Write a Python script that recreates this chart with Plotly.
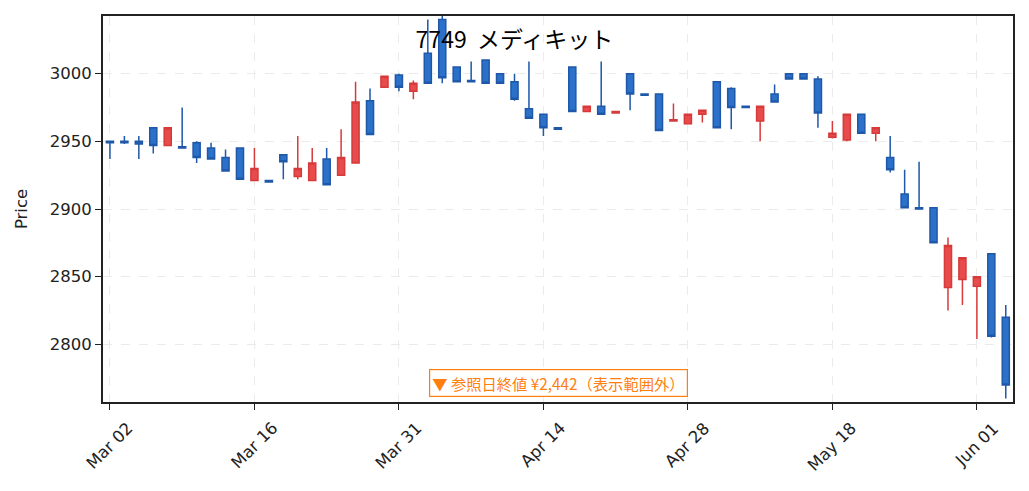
import pandas as pd
import plotly.graph_objects as go

# trading days (TSE), Mar 2 - Jun 3 2026
holidays = ['2026-03-20', '2026-04-29', '2026-05-04', '2026-05-05', '2026-05-06']
dates = pd.bdate_range('2026-03-02', '2026-06-03', freq='C', holidays=holidays)
labels = [d.strftime('%Y-%m-%d') for d in dates]

opens = [2950, 2950, 2950, 2960, 2947, 2946, 2949, 2945, 2938, 2945,
         2921, 2921, 2940, 2924, 2921, 2937, 2925, 2934, 2980, 2990,
         2999, 2987, 3015, 3040, 3005, 2995, 3010, 3000, 2994, 2974,
         2970, 2960, 3005, 2972, 2976, 2971, 3000, 2985, 2985, 2965,
         2963, 2970, 2994, 2989, 2976, 2965, 2985, 3000, 3000, 2996,
         2953, 2951, 2970, 2956, 2938, 2911, 2901, 2901, 2842, 2848,
         2843, 2867, 2820]
highs = [2950, 2954, 2954, 2960, 2960, 2975, 2950, 2949, 2944, 2945,
         2945, 2921, 2940, 2954, 2945, 2945, 2959, 2994, 2989, 2998,
         3000, 2995, 3040, 3048, 3005, 3009, 3010, 3000, 3000, 3009,
         2970, 2960, 3005, 2976, 3009, 2972, 3000, 2985, 2985, 2978,
         2970, 2973, 2994, 2990, 2976, 2976, 2992, 3000, 3000, 2998,
         2965, 2970, 2970, 2960, 2954, 2929, 2935, 2901, 2879, 2864,
         2850, 2867, 2829]
lows = [2937, 2948, 2937, 2941, 2947, 2945, 2934, 2937, 2928, 2922,
        2921, 2920, 2922, 2922, 2921, 2918, 2925, 2934, 2955, 2990,
        2987, 2981, 2993, 2993, 2994, 2994, 2993, 2993, 2980, 2967,
        2954, 2959, 2972, 2972, 2970, 2971, 2973, 2984, 2958, 2965,
        2963, 2964, 2960, 2959, 2975, 2950, 2979, 2996, 2996, 2960,
        2952, 2950, 2956, 2950, 2927, 2901, 2900, 2875, 2825, 2829,
        2804, 2805, 2760]
closes = [2949, 2949, 2948, 2947, 2960, 2945, 2938, 2937, 2928, 2922,
          2930, 2920, 2935, 2930, 2934, 2918, 2938, 2979, 2955, 2998,
          2990, 2993, 2993, 2997, 2994, 2994, 2993, 2993, 2981, 2967,
          2960, 2959, 2972, 2976, 2970, 2972, 2985, 2984, 2958, 2966,
          2970, 2973, 2960, 2975, 2975, 2976, 2979, 2996, 2996, 2971,
          2956, 2970, 2956, 2960, 2929, 2901, 2900, 2875, 2873, 2864,
          2850, 2806, 2770]

tick_idx = [0, 10, 20, 30, 40, 50, 60]
tick_vals = [labels[i] for i in tick_idx]
tick_text = [dates[i].strftime('%b %d') for i in tick_idx]

font = 'DejaVu Sans, Noto Sans CJK JP, sans-serif'

fig = go.Figure()

fig.add_trace(go.Candlestick(
    x=labels,
    open=opens,
    high=highs,
    low=lows,
    close=closes,
    increasing=dict(line=dict(color='#d63a3a', width=1.5), fillcolor='#e84b4b'),
    decreasing=dict(line=dict(color='#1f58a8', width=1.5), fillcolor='#2b70c9'),
    whiskerwidth=0,
    showlegend=False
))

# rotated date labels centred under their ticks
for val, txt in zip(tick_vals, tick_text):
    fig.add_annotation(
        text=txt, x=val, xref='x', y=0, yref='paper',
        xanchor='center', yanchor='top', yshift=-14,
        textangle=-45, showarrow=False,
        font=dict(family=font, size=16.5, color='#222')
    )

fig.add_annotation(
    text='▼ 参照日終値 ¥2,442（表示範囲外）',
    xref='paper', yref='paper',
    x=0.5, y=0.05, yanchor='middle',
    showarrow=False,
    font=dict(family='Noto Sans CJK JP', size=15.3, color='#ff7f0e'),
    bgcolor='white',
    bordercolor='#ff7f0e',
    borderwidth=1.2,
    borderpad=2
)

# page body has an 8px margin, so the figure is drawn 16px smaller
fig.update_layout(
    title=dict(text='7749  メディキット', x=0.5, xanchor='center',
               y=1 - 32 / 475, yanchor='middle',
               font=dict(family='Noto Sans CJK JP', size=23, color='black')),
    width=1013,
    height=475,
    margin=dict(l=95, r=6, t=6, b=81),
    paper_bgcolor='white',
    plot_bgcolor='white',
    font=dict(family=font, size=16.5, color='#222'),
    xaxis=dict(
        type='category',
        range=[-0.48, 62.5],
        tickvals=tick_vals,
        showticklabels=False,
        ticks='outside', ticklen=6, tickwidth=1.4, tickcolor='#222',
        showline=True, linecolor='#222', linewidth=1.8, mirror=True,
        showgrid=True, gridcolor='#ebebeb', griddash='dash', gridwidth=1,
        rangeslider=dict(visible=False)
    ),
    yaxis=dict(
        title=dict(text='Price', font=dict(size=16.5), standoff=18),
        range=[2757.4, 3042.6],
        tickvals=[2800, 2850, 2900, 2950, 3000],
        ticks='outside', ticklen=6, tickwidth=1.4, tickcolor='#222',
        showline=True, linecolor='#222', linewidth=1.8, mirror=True,
        showgrid=True, gridcolor='#ebebeb', griddash='dash', gridwidth=1,
        zeroline=False,
        tickfont=dict(size=16.5)
    )
)

fig.write_html('out.html')
